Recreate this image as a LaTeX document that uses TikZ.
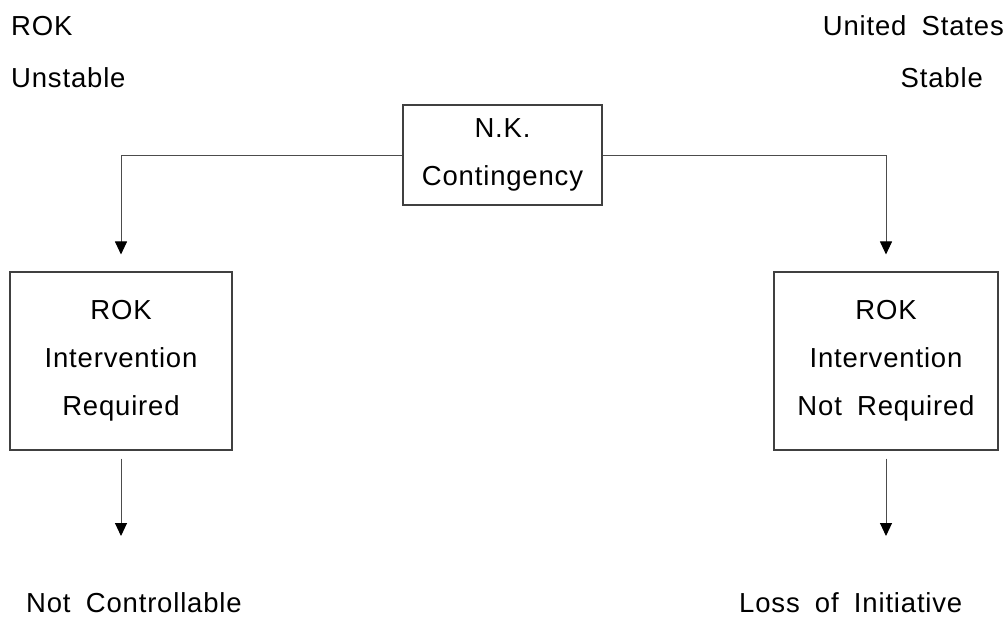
\documentclass[tikz,border=0pt]{standalone}
\usepackage{fontspec}
\setmainfont{Liberation Sans}[LetterSpace=3,WordSpace=1.8]
\usetikzlibrary{arrows.meta}
\begin{document}
\begin{tikzpicture}[x=1pt,y=-1pt,
  txt/.style={font=\fontsize{27.5}{48}\selectfont, inner sep=0pt, text=black},
  box/.style={txt, draw=black!75, line width=1.1pt, align=center, rectangle},
  link/.style={draw=black!70, line width=1pt, -{Triangle[width=12pt,length=13pt,color=black]}}]
\useasboundingbox (0,0) rectangle (1007,618);
% header labels
\node[txt, anchor=base west] (rok) at (11,36) {ROK};
\node[txt, anchor=base west] (unst) at (11,88) {Unstable};
\node[txt, anchor=base east] (us) at (1004,36) {United States};
\node[txt, anchor=base east] (stab) at (983,88) {Stable};
% boxes
\node[box, minimum width=199pt, minimum height=100pt] (T) at (502.5,155) {N.K.\\Contingency};
\node[box, minimum width=222pt, minimum height=178pt] (L) at (121,361) {ROK\\Intervention\\Required};
\node[box, minimum width=224pt, minimum height=178pt] (R) at (886,361) {ROK\\Intervention\\Not Required};
% outcomes
\node[txt, anchor=base west] (nc) at (26,612) {Not Controllable};
\node[txt, anchor=base west] (li) at (739,612) {Loss of Initiative};
\coordinate (ltip) at (121,536);
\coordinate (rtip) at (886,536);
% connectors
\draw[link, shorten >=17pt] (T.west) -| (L.north);
\draw[link, shorten >=17pt] (T.east) -| (R.north);
\draw[link] ([yshift=-8pt]L.south) -- (ltip);
\draw[link] ([yshift=-8pt]R.south) -- (rtip);
\end{tikzpicture}
\end{document}
